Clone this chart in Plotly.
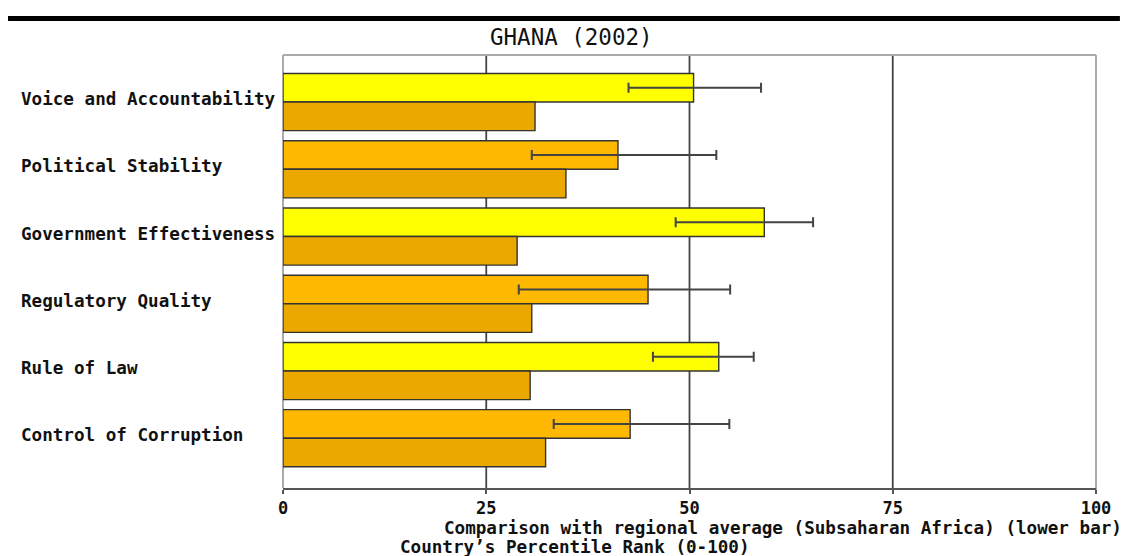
import plotly.graph_objects as go

categories = ["Voice and Accountability", "Political Stability", "Government Effectiveness",
              "Regulatory Quality", "Rule of Law", "Control of Corruption"]
country_rank = [50.5, 41.2, 59.2, 44.9, 53.6, 42.7]
err_low = [42.5, 30.6, 48.3, 29.0, 45.5, 33.3]
err_high = [58.8, 53.3, 65.2, 55.0, 57.9, 54.9]
regional_avg = [31.0, 34.8, 28.8, 30.6, 30.4, 32.3]
tick_vals = [0, 25, 50, 75, 100]
title_text = "GHANA (2002)"
xtitle_1 = "Comparison with regional average (Subsaharan Africa) (lower bar)"
xtitle_2 = "Country\u2019s Percentile Rank (0-100)"

W, H = 1123, 556
L, R, T, B = 283, 24, 55, 68
PW, PH = W - L - R, H - T - B


def px_x(p):
    return (p - L) / PW


def px_y(p):
    return (H - B - p) / PH


def rank_color(v):
    if v >= 75:
        return "#00B050"
    if v >= 50:
        return "#FFFF00"
    if v >= 25:
        return "#FFB900"
    if v >= 10:
        return "#FF8000"
    return "#FF0000"


FONT = "DejaVu Sans Mono"

fig = go.Figure()
fig.add_trace(go.Bar(
    y=categories, x=country_rank, orientation="h",
    marker=dict(color=[rank_color(v) for v in country_rank], line=dict(color="#333333", width=1.4)),
    error_x=dict(type="data", symmetric=False,
                 array=[h - v for h, v in zip(err_high, country_rank)],
                 arrayminus=[v - l for l, v in zip(err_low, country_rank)],
                 color="#444444", thickness=2, width=5),
    showlegend=False, hoverinfo="skip",
))
fig.add_trace(go.Bar(
    y=categories, x=regional_avg, orientation="h",
    marker=dict(color="#EBA900", line=dict(color="#333333", width=1.4)),
    showlegend=False, hoverinfo="skip",
))

shapes = []
for v in [25, 50, 75]:
    shapes.append(dict(type="line", xref="x", yref="paper", x0=v, x1=v, y0=0, y1=1,
                       line=dict(color="#444444", width=1.8), layer="below"))
# borders
shapes.append(dict(type="line", xref="paper", yref="paper", x0=0, x1=1, y0=1, y1=1,
                   line=dict(color="#AAAAAA", width=2), layer="below"))
shapes.append(dict(type="line", xref="paper", yref="paper", x0=0, x1=0, y0=0, y1=1,
                   line=dict(color="#AAAAAA", width=2), layer="below"))
shapes.append(dict(type="line", xref="paper", yref="paper", x0=1, x1=1, y0=-0.01, y1=1,
                   line=dict(color="#AAAAAA", width=2), layer="below"))
# thick top rule
shapes.append(dict(type="line", xref="paper", yref="paper", x0=px_x(7), x1=px_x(1123), y0=px_y(18.5), y1=px_y(18.5),
                   line=dict(color="#000000", width=5)))

annotations = []
for c in categories:
    annotations.append(dict(text=c, xref="paper", yref="y", x=px_x(18), y=c, xanchor="left", yanchor="middle",
                            yshift=3, showarrow=False,
                            font=dict(family=FONT, size=17.6, color="#111111", weight="bold")))
annotations.append(dict(text=title_text, xref="paper", yref="paper", x=px_x(573), y=px_y(37), xanchor="center",
                        yanchor="middle", showarrow=False, font=dict(family=FONT, size=22.5, color="#111111")))
annotations.append(dict(text=xtitle_1, xref="paper", yref="paper", x=px_x(443), y=px_y(528), xanchor="left",
                        yanchor="middle", showarrow=False, font=dict(family=FONT, size=17.6, color="#111111", weight="bold")))
annotations.append(dict(text=xtitle_2, xref="paper", yref="paper", x=px_x(398), y=px_y(547), xanchor="left",
                        yanchor="middle", showarrow=False, font=dict(family=FONT, size=17.6, color="#111111", weight="bold")))

fig.update_layout(
    width=W, height=H,
    margin=dict(l=L, r=R, t=T, b=B, pad=0),
    paper_bgcolor="white", plot_bgcolor="white",
    barmode="group", bargap=0.15, bargroupgap=0,
    shapes=shapes, annotations=annotations,
    xaxis=dict(range=[0, 100], tickvals=tick_vals, ticktext=[str(t) for t in tick_vals],
               showgrid=False, zeroline=False, showline=True, linecolor="#555555", linewidth=2,
               ticks="outside", ticklen=4, tickcolor="#555555", tickwidth=2,
               tickfont=dict(family=FONT, size=17, color="#111111", weight="bold"), fixedrange=True),
    yaxis=dict(type="category", categoryorder="array", categoryarray=categories,
               range=[5.74, -0.70], showticklabels=False, showgrid=False, zeroline=False,
               showline=False, ticks="", fixedrange=True),
)

fig.write_html("out.html", config={"displayModeBar": False},
               post_script="document.body.style.margin='0';document.body.style.overflow='hidden';")
